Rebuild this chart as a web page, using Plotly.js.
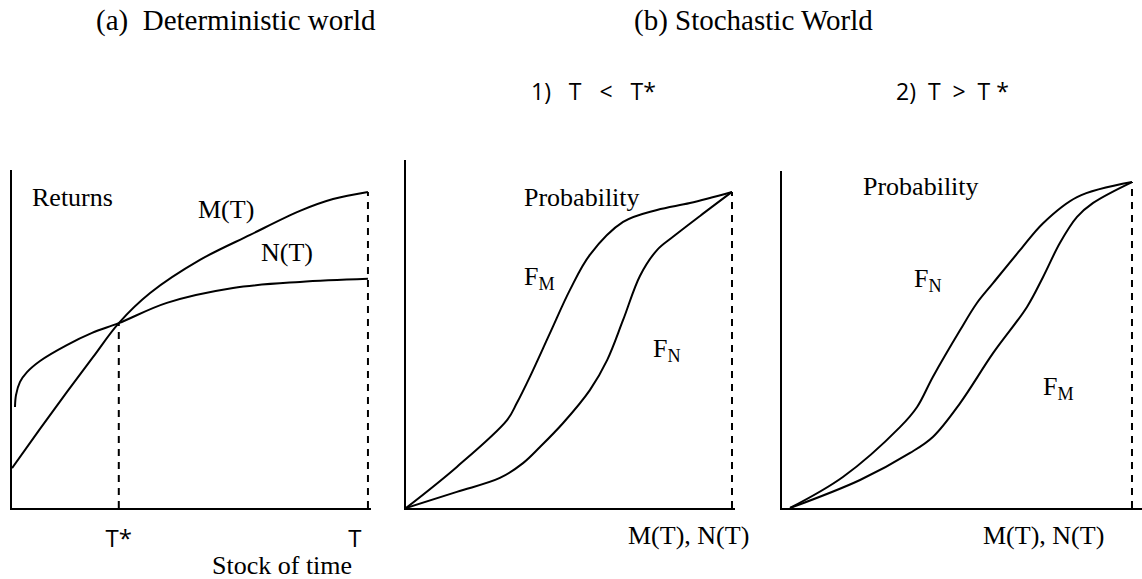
<!DOCTYPE html>
<html>
<head>
<meta charset="utf-8">
<script src="https://cdn.plot.ly/plotly-3.0.1.min.js"></script>
<style>html,body{margin:0;padding:0;background:#fff;}#chart{width:1142px;height:579px;}</style>
</head>
<body>
<div id="chart"></div>
<script>
// ---------- Panel (a): deterministic world (stock of time vs returns) ----------
const timeM = [0, 7.87, 15.4, 22.8, 30, 38.8, 52.8, 66.9, 80.9, 90.2, 100];
const returnsM = [11.8, 23.4, 34.3, 44.7, 54.7, 63.6, 73.4, 80.8, 87.9, 91.4, 93.5];
const timeN = [0.84, 1.12, 2.25, 4.21, 7.87, 15.4, 22.5, 30, 43.5, 62.1, 80.9, 100];
const returnsN = [29.9, 33.4, 37.3, 40.2, 43.5, 48.2, 51.8, 54.7, 60.7, 65.1, 66.9, 67.8];
const tStar = 30;
const tEnd = 100;
const tickPositions = [30, 96.3];
const tickLabels = ['T*', 'T'];

// ---------- Panel (b1): T < T* ----------
const p1xFM = [0, 15.6, 31.0, 34.0, 38.0, 44.2, 50.3, 56.4, 66.6, 77.0, 87.1, 100];
const p1yFM = [0, 13.0, 27.8, 33.2, 41.5, 55.4, 69.0, 80.1, 90.5, 94.3, 96.5, 100];
const p1xFN = [0, 15.6, 28.8, 35.9, 41.1, 48.2, 56.4, 61.7, 66.6, 71.8, 77.0, 81.9, 90.2, 100];
const p1yFN = [0, 5.1, 9.5, 14.2, 19.3, 26.9, 37.3, 46.8, 59.5, 73.5, 81.6, 85.8, 92.4, 100];

// ---------- Panel (b2): T > T* ----------
const p2xFN = [2.3, 17.4, 33.7, 38.6, 43.1, 50.9, 55.7, 60.3, 68.0, 74.6, 84.3, 100];
const p2yFN = [0, 9.5, 24.8, 31.0, 40.2, 54.6, 62.9, 69.0, 79.1, 87.4, 95.4, 100];
const p2xFM = [2.3, 22.3, 36.6, 43.1, 50.9, 60.3, 70.0, 74.6, 79.4, 84.3, 88.9, 100];
const p2yFM = [0, 8.6, 16.9, 21.8, 32.2, 47.5, 61.7, 70.9, 81.3, 89.3, 93.6, 100];
const probMax = 100;

// ---------- drawing ----------
const W = 1142, H = 579;
const px = v => v / W;           // pixel -> paper x
const py = v => 1 - v / H;       // pixel -> paper y

const serif = 'Liberation Serif';
const sans = 'Open Sans';
const solid = {color: '#000', width: 2, shape: 'spline', smoothing: 1};
const dashed = {color: '#000', width: 2, dash: '7px,6px'};

function curve(x, y, xa, ya) {
  return {type: 'scatter', mode: 'lines', x: x, y: y, xaxis: xa, yaxis: ya,
          line: solid, hoverinfo: 'skip'};
}
function vline(xv, ytop, xa, ya) {
  return {type: 'scatter', mode: 'lines', x: [xv, xv], y: [0, ytop], xaxis: xa, yaxis: ya,
          line: dashed, hoverinfo: 'skip'};
}
function label(text, xref, yref, x, y, family, size) {
  return {text: text, xref: xref, yref: yref, x: x, y: y, xanchor: 'center', yanchor: 'middle',
          showarrow: false, font: {family: family, size: size, color: '#000'}};
}

const traces = [
  curve(timeM, returnsM, 'x', 'y'),
  curve(timeN, returnsN, 'x', 'y'),
  vline(tStar, returnsM[timeM.indexOf(tStar)], 'x', 'y'),
  vline(tEnd, returnsM[returnsM.length - 1], 'x', 'y'),
  curve(p1xFM, p1yFM, 'x2', 'y2'),
  curve(p1xFN, p1yFN, 'x2', 'y2'),
  vline(100, probMax, 'x2', 'y2'),
  curve(p2xFN, p2yFN, 'x3', 'y3'),
  curve(p2xFM, p2yFM, 'x3', 'y3'),
  vline(100, probMax, 'x3', 'y3')
];

const axBase = {showgrid: false, zeroline: false, showline: true, linecolor: '#000',
                linewidth: 2, ticks: '', showticklabels: false, fixedrange: true};

const layout = {
  width: W, height: H,
  margin: {l: 0, r: 0, t: 0, b: 0},
  paper_bgcolor: '#fff', plot_bgcolor: 'rgba(0,0,0,0)',
  showlegend: false,
  xaxis: Object.assign({}, axBase, {domain: [px(12), px(370.8)], range: [0, 100.8],
          tickvals: tickPositions, ticktext: tickLabels, showticklabels: true,
          ticks: 'outside', ticklen: 8, tickcolor: 'rgba(0,0,0,0)',
          tickfont: {family: sans, size: 24, color: '#000'}, anchor: 'y'}),
  yaxis: Object.assign({}, axBase, {domain: [py(508), py(170)], range: [0, 100], anchor: 'x'}),
  xaxis2: Object.assign({}, axBase, {domain: [px(406), px(734.6)], range: [0, 100.8], anchor: 'y2'}),
  yaxis2: Object.assign({}, axBase, {domain: [py(508), py(160)], range: [0, 110.1], anchor: 'x2'}),
  xaxis3: Object.assign({}, axBase, {domain: [px(782), px(1142)], range: [0, 102.86], anchor: 'y3'}),
  yaxis3: Object.assign({}, axBase, {domain: [py(508), py(171)], range: [0, 103.4], anchor: 'x3'}),
  annotations: [
    // headings
    label('(a)\u00a0\u00a0Deterministic world', 'paper', 'paper', px(236), py(20), serif, 29),
    label('(b) Stochastic World', 'paper', 'paper', px(753), py(20), serif, 29),
    label('1)\u00a0\u00a0\u00a0T\u00a0\u00a0\u00a0<\u00a0\u00a0\u00a0T*', 'paper', 'paper', px(593), py(91), sans, 23),
    label('2)\u00a0\u00a0T\u00a0\u00a0>\u00a0\u00a0T\u00a0*', 'paper', 'paper', px(952), py(91), sans, 23),
    // panel (a)
    label('Returns', 'x', 'y', 16.9, 92.0, serif, 26),
    label('M(T)', 'x', 'y', 60.1, 88.2, serif, 26),
    label('N(T)', 'x', 'y', 77.2, 75.7, serif, 26),
    label('Stock of time', 'x', 'paper', 75.8, py(565), serif, 26),
    // panel (b1)
    label('Probability', 'x2', 'y2', 54.0, 98.1, serif, 26),
    label('F<sub>M</sub>', 'x2', 'y2', 41.1, 72.8, serif, 26),
    label('F<sub>N</sub>', 'x2', 'y2', 80.1, 50.0, serif, 26),
    label('M(T), N(T)', 'x2', 'paper', 86.8, py(535), serif, 26),
    // panel (b2)
    label('Probability', 'x3', 'y3', 39.7, 98.5, serif, 26),
    label('F<sub>N</sub>', 'x3', 'y3', 41.7, 69.9, serif, 26),
    label('F<sub>M</sub>', 'x3', 'y3', 78.9, 36.8, serif, 26),
    label('M(T), N(T)', 'x3', 'paper', 74.6, py(535), serif, 26)
  ]
};

Plotly.newPlot('chart', traces, layout, {displayModeBar: false, staticPlot: true});
</script>
</body>
</html>
